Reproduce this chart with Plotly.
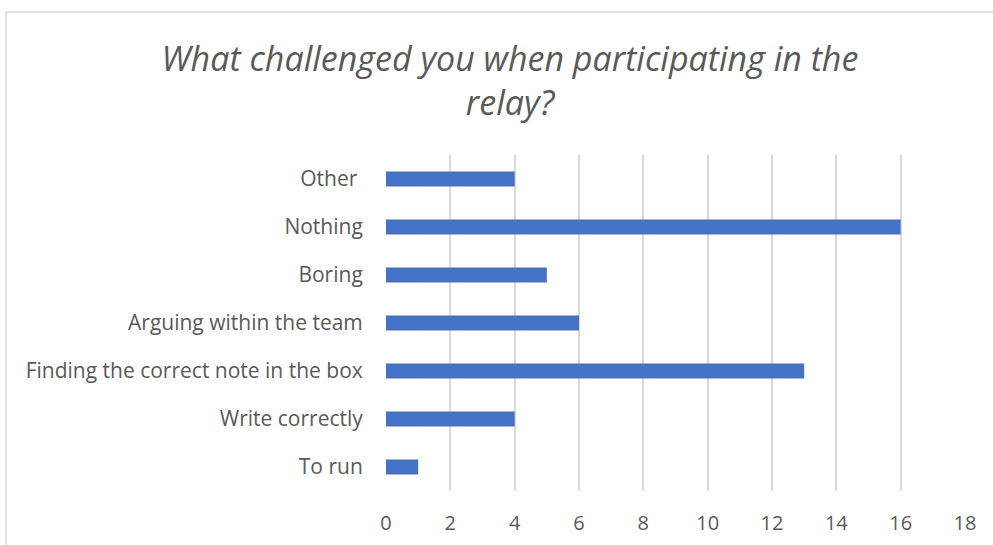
import plotly.graph_objects as go

categories = ["To run", "Write correctly", "Finding the correct note in the box",
              "Arguing within the team", "Boring", "Nothing", "Other "]
values = [1, 4, 13, 6, 5, 16, 4]
x_ticks = [0, 2, 4, 6, 8, 10, 12, 14, 16, 18]

W, H = 993, 545
ml, mr, mt, mb = 386, 28, 155, 54
pw, ph = W - ml - mr, H - mt - mb

def px_x(p):
    return (p - ml) / pw

def px_y(p):
    return 1 - (p - mt) / ph

fig = go.Figure(go.Bar(
    x=values, y=categories, orientation="h",
    marker=dict(color="#4472C4", line=dict(width=0)),
    width=0.31,
))

fig.update_layout(
    width=W, height=H,
    margin=dict(l=ml, r=mr, t=mt, b=mb, autoexpand=False),
    paper_bgcolor="white", plot_bgcolor="white",
    title=dict(
        text="What challenged you when participating in the<br>relay?",
        x=px_x(510), xanchor="center", xref="paper",
        y=1 - 71 / H, yanchor="middle",
        font=dict(family="Open Sans", size=34, color="#595959", style="italic"),
    ),
    font=dict(family="Open Sans", color="#595959"),
    xaxis=dict(
        range=[0, 18], tickvals=x_ticks, showgrid=True, gridcolor="#d9d9d9",
        gridwidth=1.5, zeroline=False, showline=False, automargin=False,
        tickfont=dict(size=20, color="#595959"), ticks="outside", ticklen=14,
        tickcolor="rgba(0,0,0,0)",
    ),
    yaxis=dict(
        categoryorder="array", categoryarray=categories, automargin=False,
        showgrid=False, zeroline=False, showline=False,
        tickfont=dict(size=21, color="#595959"), ticks="outside", ticklen=18,
        tickcolor="rgba(0,0,0,0)",
    ),
    showlegend=False,
    shapes=[dict(type="rect", xref="paper", yref="paper",
                 x0=px_x(6), x1=px_x(1000), y0=px_y(560), y1=px_y(12),
                 line=dict(color="#d9d9d9", width=1.5), fillcolor="rgba(0,0,0,0)",
                 layer="below")],
)
fig.update_xaxes(layer="below traces")

fig.write_html("out.html")
